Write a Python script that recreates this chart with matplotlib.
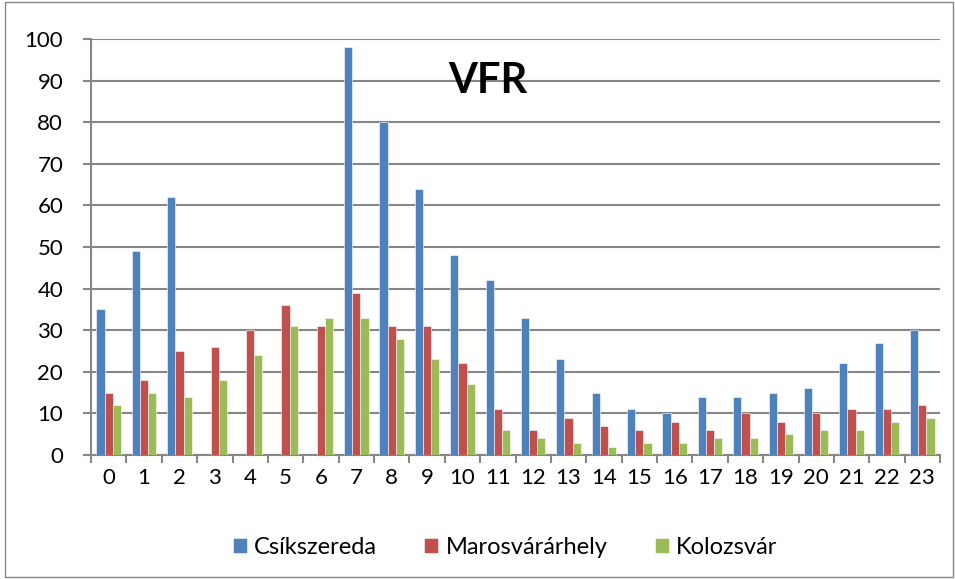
import matplotlib
matplotlib.use("Agg")
import matplotlib.pyplot as plt
import numpy as np
from matplotlib.patches import Rectangle

hours = [str(h) for h in range(24)]
csikszereda = [35, 49, 62, 0, 0, 0, 0, 98, 80, 64, 48, 42, 33, 23, 15, 11, 10, 14, 14, 15, 16, 22, 27, 30]
marosvasarhely = [15, 18, 25, 26, 30, 36, 31, 39, 31, 31, 22, 11, 6, 9, 7, 6, 8, 6, 10, 8, 10, 11, 11, 12]
kolozsvar = [12, 15, 14, 18, 24, 31, 33, 33, 28, 23, 17, 6, 4, 3, 2, 3, 3, 4, 4, 5, 6, 6, 8, 9]
series_names = ["Csíkszereda", "Marosvárárhely", "Kolozsvár"]
colors = ["#4F81BD", "#C0504D", "#9BBB59"]

plt.rcParams['font.family'] = ['Lato', 'DejaVu Sans']

fig = plt.figure(figsize=(9.55, 5.79), dpi=100)
ax = fig.add_axes([91/955, 1-455/579, (940-91)/955, (455-39)/579])

x = np.arange(len(hours))
w = 0.23
for i, (vals, name, c) in enumerate(zip([csikszereda, marosvasarhely, kolozsvar], series_names, colors)):
    ax.bar(x + (i-1)*w, vals, width=w, color=c, label=name, edgecolor='white', linewidth=0.4, zorder=3)

ax.set_xlim(-0.5, 23.5)
ax.set_ylim(0, 100)
ax.set_yticks(range(0, 101, 10))
ax.set_xticks(x)
ax.set_xticklabels(hours)
ax.set_xticks(np.arange(-0.5, 24, 1), minor=True)
ax.tick_params(axis='x', which='major', length=0, pad=9, labelsize=16)
ax.tick_params(axis='x', which='minor', length=6, width=1.5, color='#868686', direction='out')
ax.tick_params(axis='y', length=6, width=1.5, color='#868686', pad=14, labelsize=16)
ax.grid(axis='y', color='#868686', linewidth=1.5, zorder=0)
for s in ['top', 'right']:
    ax.spines[s].set_visible(False)
for s in ['left', 'bottom']:
    ax.spines[s].set_color('#868686')
    ax.spines[s].set_linewidth(1.5)

ax.text(0.467, 0.945, "VFR", transform=ax.transAxes, ha='center', va='top', fontsize=30, fontweight='bold')

fig.legend(loc='center', bbox_to_anchor=(505/955, 1-547/579), ncol=3, frameon=False,
           fontsize=17, handlelength=0.6, handleheight=0.6, handletextpad=0.3, columnspacing=2.0)

fig.patches.append(Rectangle((5/955, 2/579), 948/955, 1-4/579, transform=fig.transFigure,
                             fill=False, edgecolor='#868686', linewidth=1))

fig.savefig("out.png", dpi=100)
